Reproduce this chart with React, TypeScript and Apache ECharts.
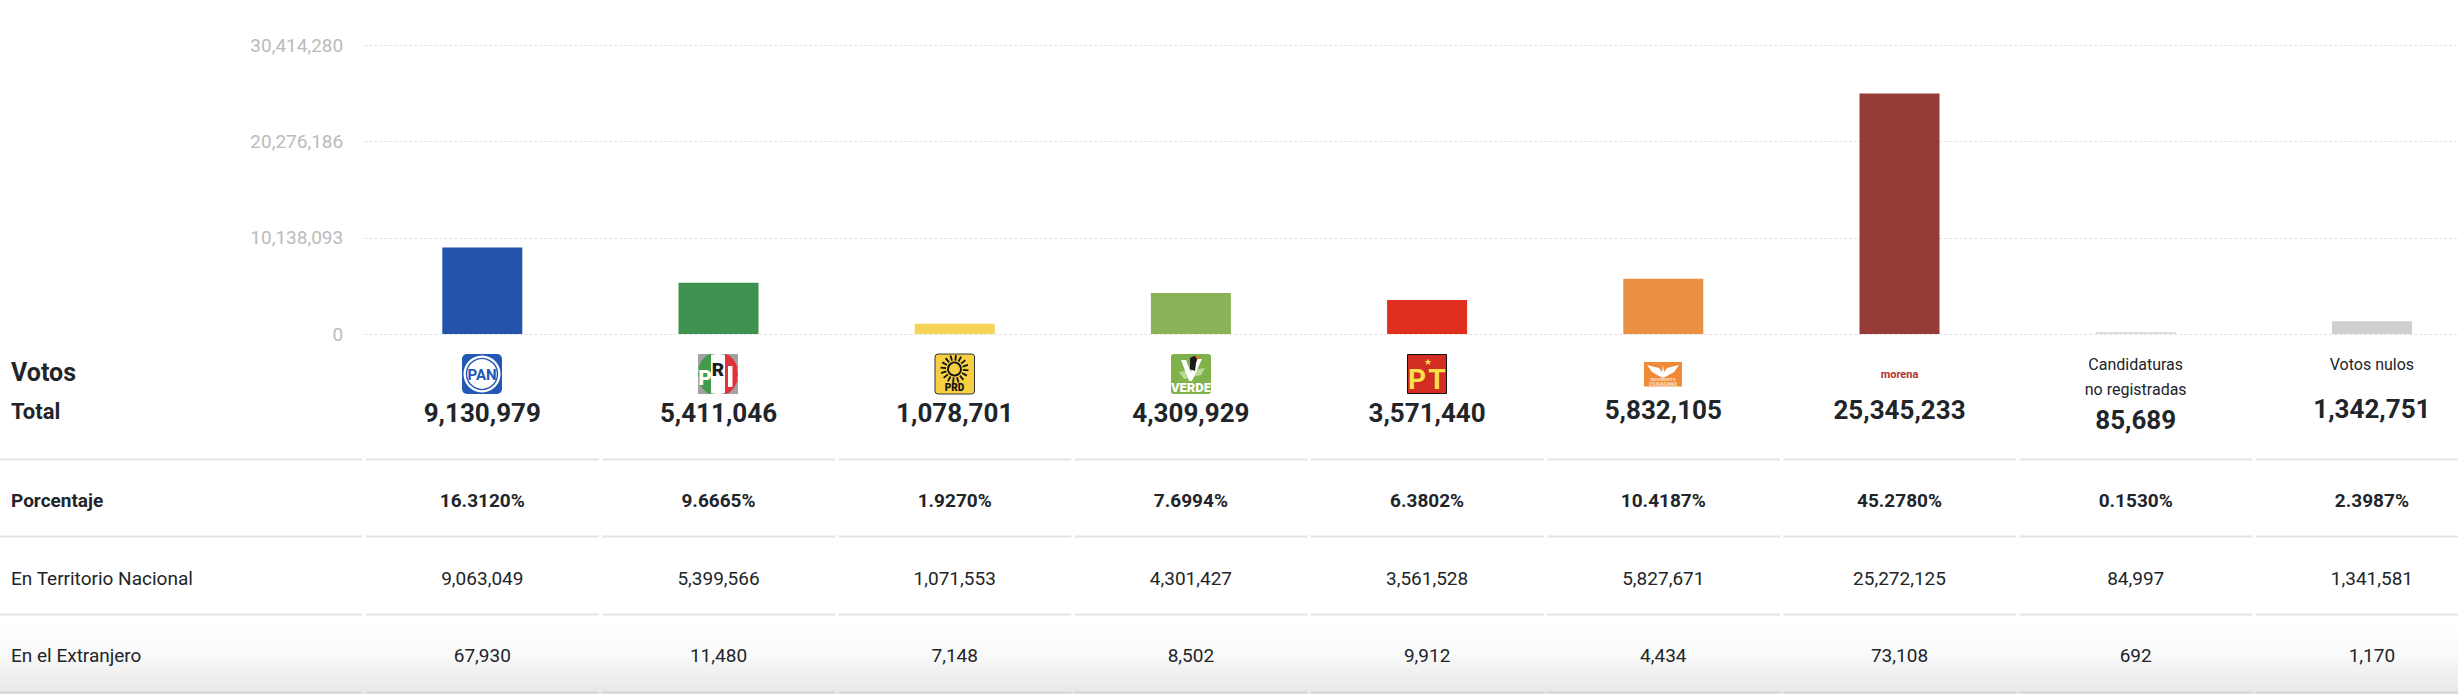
import React, { useEffect, useRef } from "react";
import * as echarts from "echarts";

const parties = ["PAN", "PRI", "PRD", "VERDE", "PT", "MC", "morena", "Candidaturas no registradas", "Votos nulos"];
const totals = [9130979, 5411046, 1078701, 4309929, 3571440, 5832105, 25345233, 85689, 1342751];
const percentages = ["16.3120%", "9.6665%", "1.9270%", "7.6994%", "6.3802%", "10.4187%", "45.2780%", "0.1530%", "2.3987%"];
const national = ["9,063,049", "5,399,566", "1,071,553", "4,301,427", "3,561,528", "5,827,671", "25,272,125", "84,997", "1,341,581"];
const abroad = ["67,930", "11,480", "7,148", "8,502", "9,912", "4,434", "73,108", "692", "1,170"];
const barColors = ["#2353ab", "#3f914f", "#f6d354", "#8ab357", "#e02e1f", "#ea9044", "#963b38", "#dddddd", "#cfcfcf"];
const tickLabels = ["0", "10,138,093", "20,276,186", "30,414,280"];
const rowLabels = ["Porcentaje", "En Territorio Nacional", "En el Extranjero"];

const FONT = "Roboto";
const INK = "#212529";
const GRID_LEFT = 364.2;
const STEP = 236.2;
const CHART_W = 2492;
const cx = (i: number) => GRID_LEFT + STEP * (i + 0.5);

function txt(x: number, y: number, text: string, fontSize: number, fontWeight: any = 400, fill = INK, align = "center", z = 5) {
  return { type: "text", x, y, z, silent: true, style: { text, fontFamily: FONT, fontSize, fontWeight, fill, align, verticalAlign: "middle" } };
}
const rect = (x: number, y: number, w: number, h: number, fill: string, r = 0, extra: any = {}) => ({
  type: "rect", z: 3, silent: true, shape: { x, y, width: w, height: h, r }, style: { fill, ...extra },
});
const poly = (points: number[][], fill: string) => ({ type: "polygon", z: 4, silent: true, shape: { points }, style: { fill } });

function logos(): any[] {
  const out: any[] = [];
  const top = 354;
  // PAN
  let l = 462;
  out.push(rect(l, top, 40, 40, "#2358b5", 5));
  out.push({ type: "circle", z: 4, silent: true, shape: { cx: l + 20, cy: top + 20, r: 18.5 }, style: { fill: "#ffffff" } });
  out.push({ type: "circle", z: 4, silent: true, shape: { cx: l + 20, cy: top + 20, r: 15.5 }, style: { fill: "#ffffff", stroke: "#2358b5", lineWidth: 1.4 } });
  out.push(txt(l + 20, top + 20.5, "PAN", 15, 700, "#2358b5"));
  // PRI
  l = 698;
  out.push(rect(l, top, 40, 40, "#a3a3a3"));
  out.push({ type: "ellipse", z: 3, silent: true, shape: { cx: l + 20, cy: top + 20, rx: 20, ry: 20 }, style: { fill: "#ffffff" } });
  out.push(poly([[l + 1, top + 12], [l + 4, top + 6], [l + 9, top + 1], [l + 13, top], [l + 13, top + 40], [l + 9, top + 39], [l + 4, top + 34], [l + 1, top + 28], [l, top + 20]], "#409b4c"));
  out.push(poly([[l + 27, top], [l + 31, top + 1], [l + 36, top + 6], [l + 39, top + 12], [l + 40, top + 20], [l + 39, top + 28], [l + 36, top + 34], [l + 31, top + 39], [l + 27, top + 40]], "#e0323a"));
  out.push(txt(l + 7, top + 24, "P", 21, 900, "#ffffff"));
  out.push(txt(l + 20, top + 15, "R", 19, 900, "#1c1c1c"));
  out.push(rect(l + 30, top + 12, 4.5, 21, "#ffffff"));
  out[out.length - 1].z = 5;
  // PRD
  l = 935;
  out.push(rect(l, top, 39.5, 40, "#f6d042", 3, { stroke: "#333333", lineWidth: 1 }));
  const sx = l + 19.5, sy = top + 15;
  for (let a = 0; a < 16; a++) {
    const t = (a * Math.PI) / 8 + 0.1;
    out.push({ type: "line", z: 4, silent: true, shape: { x1: sx + Math.cos(t) * 8.5, y1: sy + Math.sin(t) * 8.5, x2: sx + Math.cos(t) * 14, y2: sy + Math.sin(t) * 14 }, style: { stroke: "#111111", lineWidth: 1.8 } });
  }
  out.push({ type: "circle", z: 4, silent: true, shape: { cx: sx, cy: sy, r: 6.5 }, style: { fill: "none", stroke: "#111111", lineWidth: 1.8 } });
  out.push(txt(sx, top + 33.5, "PRD", 10, 900, "#111111"));
  // VERDE
  l = 1171;
  out.push(rect(l, top, 40, 40, "#7fb24a", 3));
  out.push(poly([[l + 8, top + 18], [l + 34, top + 14], [l + 30, top + 21], [l + 13, top + 25]], "#bcd99c"));
  out.push(poly([[l + 10, top + 6], [l + 15, top + 6], [l + 20, top + 19], [l + 25, top + 5], [l + 31, top + 5], [l + 21, top + 27], [l + 18, top + 27]], "#ffffff"));
  out.push(poly([[l + 19, top + 4], [l + 23, top + 2], [l + 27, top + 3], [l + 25, top + 9], [l + 24, top + 17], [l + 19, top + 15]], "#1a1a1a"));
  out.push(poly([[l + 24, top + 2], [l + 31, top + 3], [l + 26, top + 5]], "#e8792a"));
  out.push(txt(l + 20, top + 33.5, "VERDE", 13, 900, "#ffffff"));
  // PT
  l = 1407;
  out.push(rect(l + 0.5, top + 0.5, 39, 39, "#d22c23", 0, { stroke: "#111111", lineWidth: 1 }));
  out.push(txt(l + 20.5, top + 8, "★", 9, 400, "#f8e14a"));
  out.push(txt(l + 10, top + 25, "P", 28, 700, "#f8e14a"));
  out.push(txt(l + 30, top + 25, "T", 28, 700, "#f8e14a"));
  // MC
  l = 1644;
  out.push(rect(l, 362, 38, 24.5, "#f08a37"));
  out.push(poly([[l + 3, 365], [l + 15, 368], [l + 18, 372], [l + 19, 365], [l + 20, 372], [l + 23, 368], [l + 35, 365], [l + 30, 372], [l + 23, 376], [l + 19, 378], [l + 15, 376], [l + 8, 372]], "#ffffff"));
  out.push(txt(l + 19, 379.5, "MOVIMIENTO", 4, 700, "#fbe3cf"));
  out.push(txt(l + 19, 384, "CIUDADANO", 5, 700, "#fbe3cf"));
  // morena
  out.push(txt(cx(6), 374, "morena", 11, 700, "#b5332e"));
  return out;
}

function table(): any[] {
  const out: any[] = [];
  out.push({
    type: "rect", z: 0, silent: true, shape: { x: 0, y: 615, width: CHART_W, height: 79 },
    style: { fill: new echarts.graphic.LinearGradient(0, 0, 0, 1, [
      { offset: 0, color: "#ffffff" }, { offset: 0.45, color: "#fbfbfb" }, { offset: 1, color: "#e7e7e7" },
    ]) },
  });
  for (const y of [459.5, 536.5, 614.5, 692.5]) {
    const stroke = y > 690 ? "#d6d6d6" : "#e4e4e4";
    const seg = (x1: number, x2: number) => ({ type: "line", z: 2, silent: true, shape: { x1, y1: y, x2, y2: y }, style: { stroke, lineWidth: 2 } });
    out.push(seg(0, 362));
    for (let i = 0; i < 9; i++) out.push(seg(GRID_LEFT + STEP * i + 2, GRID_LEFT + STEP * (i + 1) - 1.5));
  }
  out.push(txt(11, 372, "Votos", 25, 700, INK, "left"));
  out.push(txt(11, 411, "Total", 22, 700, INK, "left"));
  out.push(txt(11, 500, rowLabels[0], 19, 700, INK, "left"));
  out.push(txt(11, 578, rowLabels[1], 19, 400, INK, "left"));
  out.push(txt(11, 655, rowLabels[2], 19, 400, INK, "left"));

  const totalY = [413, 413, 413, 413, 413, 410, 410, 420, 409];
  totals.forEach((v, i) => out.push(txt(cx(i), totalY[i], v.toLocaleString("en-US"), 26, 700)));
  percentages.forEach((v, i) => out.push(txt(cx(i), 500, v, 19, 700)));
  national.forEach((v, i) => out.push(txt(cx(i), 578, v, 19)));
  abroad.forEach((v, i) => out.push(txt(cx(i), 655, v, 19)));
  out.push(txt(cx(7), 364, "Candidaturas", 16));
  out.push(txt(cx(7), 389, "no registradas", 16));
  out.push(txt(cx(8), 364, "Votos nulos", 16));
  return out;
}

export default function App() {
  const ref = useRef<HTMLDivElement>(null);
  useEffect(() => {
    document.body.style.margin = "0";
    document.body.style.overflow = "hidden";
    const chart = echarts.init(ref.current!, undefined, { renderer: "svg" });
    chart.setOption({
      animation: false,
      backgroundColor: "#ffffff",
      grid: { left: GRID_LEFT, top: 45.5, width: STEP * 9, height: 288.5, containLabel: false },
      xAxis: { type: "category", data: parties, axisLine: { show: false }, axisTick: { show: false }, axisLabel: { show: false } },
      yAxis: {
        type: "value", min: 0, max: 30414279, interval: 10138093,
        axisLine: { show: false }, axisTick: { show: false },
        axisLabel: { margin: 21, padding: [0, 0, 2, 0], fontFamily: FONT, fontSize: 19, color: "#bbbbbb", formatter: (_v: number, i: number) => tickLabels[i] },
        splitLine: { show: true, lineStyle: { type: [3, 2], color: "#e2e2e2", width: 1 } },
      },
      series: [{
        type: "bar", barWidth: 80, barMinHeight: 2, silent: true,
        data: totals.map((value, i) => ({ value, itemStyle: { color: barColors[i] } })),
      }],
      graphic: [...table(), ...logos()],
    });
    return () => chart.dispose();
  }, []);
  return (
    <div style={{ width: 2458, height: 694, overflow: "hidden" }}>
      <div ref={ref} style={{ width: CHART_W, height: 694 }} />
    </div>
  );
}
